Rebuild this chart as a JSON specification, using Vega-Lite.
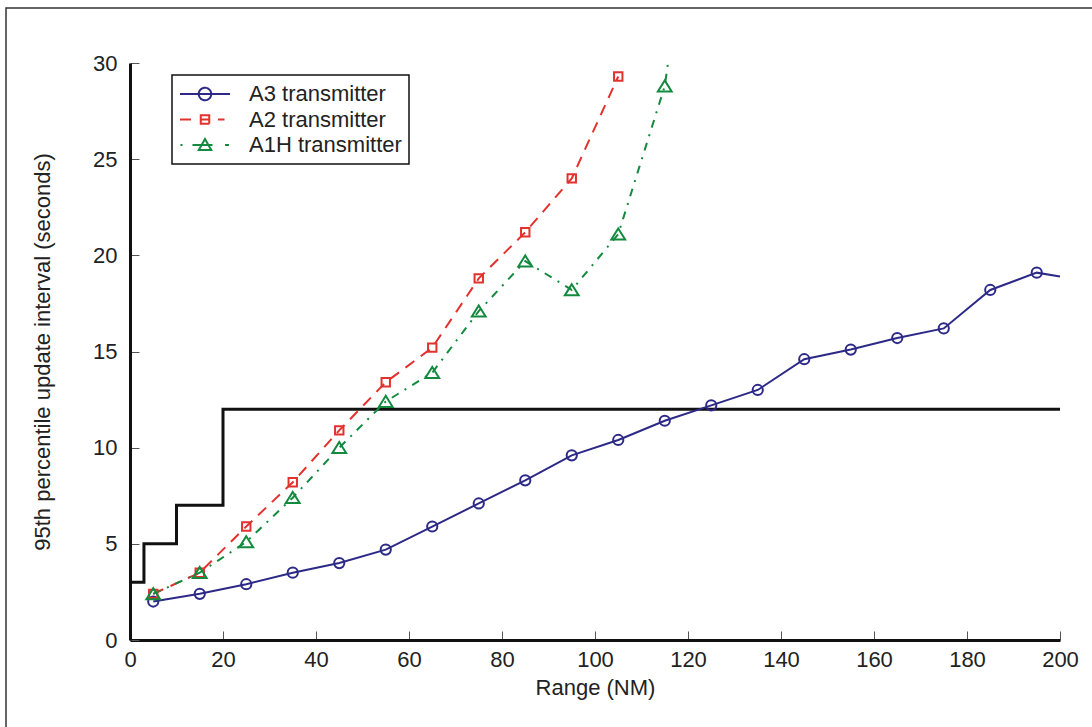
{
  "$schema": "https://vega.github.io/schema/vega-lite/v6.json",
  "width": 1090,
  "height": 722,
  "autosize": {"type": "none"},
  "padding": {"left": 6, "top": 8, "right": -4, "bottom": -3},
  "background": "white",
  "config": {
    "view": {"stroke": "#333333", "strokeWidth": 1.5},
    "font": "Liberation Sans"
  },
  "datasets": {
    "series": [
      {"series": "A3 transmitter", "range": 5, "value": 2.0},
      {"series": "A3 transmitter", "range": 15, "value": 2.4},
      {"series": "A3 transmitter", "range": 25, "value": 2.9},
      {"series": "A3 transmitter", "range": 35, "value": 3.5},
      {"series": "A3 transmitter", "range": 45, "value": 4.0},
      {"series": "A3 transmitter", "range": 55, "value": 4.7},
      {"series": "A3 transmitter", "range": 65, "value": 5.9},
      {"series": "A3 transmitter", "range": 75, "value": 7.1},
      {"series": "A3 transmitter", "range": 85, "value": 8.3},
      {"series": "A3 transmitter", "range": 95, "value": 9.6},
      {"series": "A3 transmitter", "range": 105, "value": 10.4},
      {"series": "A3 transmitter", "range": 115, "value": 11.4},
      {"series": "A3 transmitter", "range": 125, "value": 12.2},
      {"series": "A3 transmitter", "range": 135, "value": 13.0},
      {"series": "A3 transmitter", "range": 145, "value": 14.6},
      {"series": "A3 transmitter", "range": 155, "value": 15.1},
      {"series": "A3 transmitter", "range": 165, "value": 15.7},
      {"series": "A3 transmitter", "range": 175, "value": 16.2},
      {"series": "A3 transmitter", "range": 185, "value": 18.2},
      {"series": "A3 transmitter", "range": 195, "value": 19.1},
      {"series": "A3 transmitter", "range": 200, "value": 18.9},
      {"series": "A2 transmitter", "range": 5, "value": 2.4},
      {"series": "A2 transmitter", "range": 15, "value": 3.5},
      {"series": "A2 transmitter", "range": 25, "value": 5.9},
      {"series": "A2 transmitter", "range": 35, "value": 8.2},
      {"series": "A2 transmitter", "range": 45, "value": 10.9},
      {"series": "A2 transmitter", "range": 55, "value": 13.4},
      {"series": "A2 transmitter", "range": 65, "value": 15.2},
      {"series": "A2 transmitter", "range": 75, "value": 18.8},
      {"series": "A2 transmitter", "range": 85, "value": 21.2},
      {"series": "A2 transmitter", "range": 95, "value": 24.0},
      {"series": "A2 transmitter", "range": 105, "value": 29.3},
      {"series": "A1H transmitter", "range": 5, "value": 2.4},
      {"series": "A1H transmitter", "range": 15, "value": 3.5},
      {"series": "A1H transmitter", "range": 25, "value": 5.1},
      {"series": "A1H transmitter", "range": 35, "value": 7.4},
      {"series": "A1H transmitter", "range": 45, "value": 10.0},
      {"series": "A1H transmitter", "range": 55, "value": 12.4},
      {"series": "A1H transmitter", "range": 65, "value": 13.9},
      {"series": "A1H transmitter", "range": 75, "value": 17.1},
      {"series": "A1H transmitter", "range": 85, "value": 19.7},
      {"series": "A1H transmitter", "range": 95, "value": 18.2},
      {"series": "A1H transmitter", "range": 105, "value": 21.1},
      {"series": "A1H transmitter", "range": 115, "value": 28.8},
      {"series": "A1H transmitter", "range": 115.7, "value": 30}
    ],
    "limit": [
      {"range": 0, "value": 3},
      {"range": 3, "value": 5},
      {"range": 10, "value": 7},
      {"range": 20, "value": 12},
      {"range": 200, "value": 12}
    ]
  },
  "data": {"name": "series"},
  "encoding": {
    "x": {
      "field": "range",
      "type": "quantitative",
      "scale": {"domain": [0, 200], "range": [124, 1054], "nice": false, "zero": false},
      "axis": {
        "title": "Range (NM)",
        "values": [0, 20, 40, 60, 80, 100, 120, 140, 160, 180, 200],
        "grid": false,
        "offset": -90,
        "tickSize": -9,
        "tickColor": "#555555",
        "tickWidth": 1,
        "domainColor": "#111111",
        "domainWidth": 3,
        "labelFontSize": 22,
        "labelColor": "#222222",
        "labelPadding": 18,
        "labelFlush": false,
        "titleFontSize": 22,
        "titleFontWeight": "normal",
        "titleColor": "#222222",
        "titlePadding": 7
      }
    },
    "y": {
      "field": "value",
      "type": "quantitative",
      "scale": {"domain": [0, 30], "range": [632, 55], "nice": false},
      "axis": {
        "title": "95th percentile update interval (seconds)",
        "values": [0, 5, 10, 15, 20, 25, 30],
        "grid": false,
        "offset": -124,
        "tickSize": -9,
        "tickColor": "#555555",
        "tickWidth": 1,
        "domainColor": "#111111",
        "domainWidth": 3,
        "labelFontSize": 22,
        "labelColor": "#222222",
        "labelPadding": 22,
        "labelFlush": false,
        "titleFontSize": 22,
        "titleFontWeight": "normal",
        "titleColor": "#222222",
        "titlePadding": 38
      }
    }
  },
  "layer": [
    {
      "data": {"name": "limit"},
      "mark": {"type": "line", "interpolate": "step-after", "color": "#111111", "strokeWidth": 3}
    },
    {
      "transform": [{"filter": "datum.series == 'A3 transmitter'"}],
      "mark": {"type": "line", "strokeWidth": 2},
      "encoding": {
        "color": {
          "field": "series",
          "type": "nominal",
          "scale": {
            "domain": ["A3 transmitter", "A2 transmitter", "A1H transmitter"],
            "range": ["#2d2a87", "#e3312d", "#138a3e"]
          },
          "legend": {
            "orient": "none",
            "legendX": 166,
            "legendY": 67,
            "title": null,
            "padding": 7,
            "clipHeight": 24,
            "rowPadding": 1.5,
            "labelOffset": 18,
            "labelFontSize": 22,
            "labelLimit": 300,
            "labelColor": "#222222",
            "strokeColor": "#111111",
            "fillColor": "white",
            "symbolOffset": 0,
            "symbolSize": 2500,
            "symbolStrokeWidth": 2,
            "symbolFillColor": "transparent",
            "encode": {
              "symbols": {
                "update": {
                  "shape": {"signal": "datum.value == 'A3 transmitter' ? 'M-1,0L1,0M-0.25,0A0.25,0.25,0,1,0,0.25,0A0.25,0.25,0,1,0,-0.25,0' : datum.value == 'A2 transmitter' ? 'M-1,0L-0.56,0M-0.2,0L0.2,0M0.52,0L0.78,0M-0.17,-0.17L0.17,-0.17L0.17,0.17L-0.17,0.17Z' : 'M-0.98,0L-0.9,0M-0.5,0L0.3,0M0.8,0L0.96,0M-0.25,0.2L0,-0.24L0.25,0.2Z'"},
                  "stroke": {"scale": "color", "field": "value"},
                  "strokeDash": {"value": [1, 0]},
                  "fill": {"value": "transparent"},
                  "strokeWidth": {"value": 2},
                  "size": {"value": 2500}
                }
              },
              "legend": {"update": {"strokeWidth": {"value": 1.5}}}
            }
          }
        }
      }
    },
    {
      "transform": [{"filter": "datum.series == 'A2 transmitter'"}],
      "mark": {"type": "line", "strokeWidth": 2, "strokeDash": [11, 8]},
      "encoding": {"color": {"field": "series", "type": "nominal"}}
    },
    {
      "transform": [{"filter": "datum.series == 'A1H transmitter'"}],
      "mark": {"type": "line", "strokeWidth": 2, "strokeDash": [8, 7, 2, 7]},
      "encoding": {"color": {"field": "series", "type": "nominal"}}
    },
    {
      "transform": [{"filter": "datum.series == 'A3 transmitter' && datum.range % 10 == 5"}],
      "mark": {"type": "point", "filled": false, "strokeWidth": 2, "opacity": 1, "size": 144, "shape": "M-0.85,0A0.85,0.85,0,1,0,0.85,0A0.85,0.85,0,1,0,-0.85,0"},
      "encoding": {"color": {"field": "series", "type": "nominal"}}
    },
    {
      "transform": [{"filter": "datum.series == 'A2 transmitter' && datum.range % 10 == 5"}],
      "mark": {"type": "point", "filled": false, "strokeWidth": 2, "opacity": 1, "size": 144, "shape": "M-0.7,-0.7L0.7,-0.7L0.7,0.7L-0.7,0.7Z"},
      "encoding": {"color": {"field": "series", "type": "nominal"}}
    },
    {
      "transform": [{"filter": "datum.series == 'A1H transmitter' && datum.range % 10 == 5"}],
      "mark": {"type": "point", "filled": false, "strokeWidth": 2, "opacity": 1, "size": 144, "shape": "M0,-0.95L1.15,0.9L-1.15,0.9Z"},
      "encoding": {"color": {"field": "series", "type": "nominal"}}
    }
  ]
}
